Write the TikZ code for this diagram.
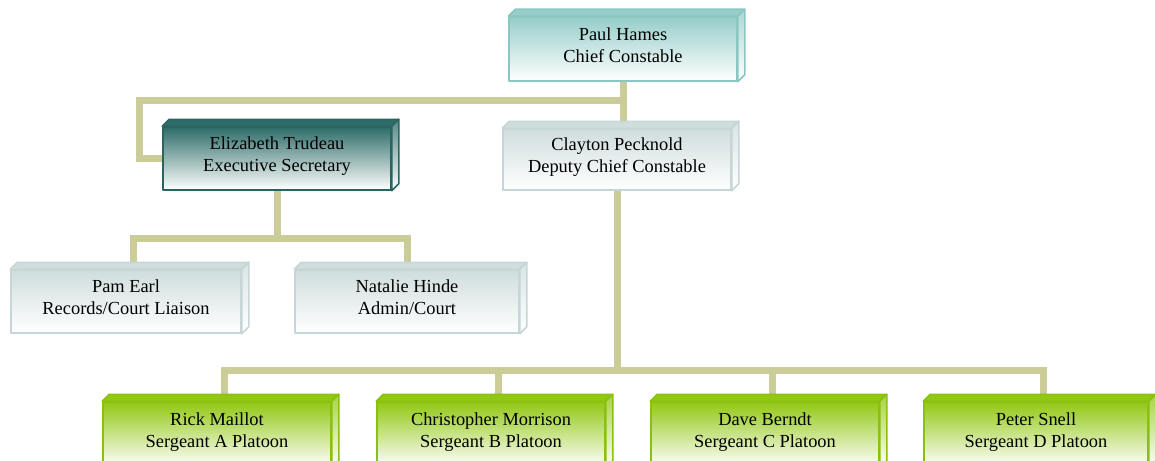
\documentclass[tikz,border=0pt]{standalone}
\usepackage{fontspec}
\setmainfont{Liberation Serif}
\usetikzlibrary{calc,backgrounds}
\definecolor{linec}{RGB}{204,204,153}
\definecolor{tealT}{RGB}{150,205,201}
\definecolor{tealB}{RGB}{138,198,194}
\definecolor{darkT}{RGB}{45,108,104}
\definecolor{darkB}{RGB}{42,100,96}
\definecolor{greyT}{RGB}{208,221,221}
\definecolor{greyB}{RGB}{198,213,213}
\definecolor{greenT}{RGB}{146,200,20}
\definecolor{greenB}{RGB}{138,192,16}
\tikzset{
  front/.style={inner sep=0pt, line width=1.5pt, line join=round},
  boxtext/.style={align=center, font=\fontsize{18.4}{22}\selectfont, text depth=0pt, inner sep=0pt},
  conn/.style={draw=linec, line width=7pt, line join=miter},
}
% name, x, y, w, h, colour prefix, text
\newcommand\orgunit[7]{%
  \node[front, minimum width=#4pt, minimum height=#5pt, draw=#6B,
        top color=#6T, middle color=#6T!45!white, bottom color=white] (#1) at (#2,#3) {};
  \fill[#6T, draw=#6B, line width=1.5pt, line join=round]
    (#1.north west) -- ([shift={(7pt,7pt)}]#1.north west)
    -- ([shift={(7pt,7pt)}]#1.north east) -- (#1.north east) -- cycle;
  \shade[top color=#6T!80!white, bottom color=white, draw=#6B, line width=1.5pt, line join=round]
    (#1.north east) -- ([shift={(7pt,7pt)}]#1.north east)
    -- ([shift={(7pt,7pt)}]#1.south east) -- (#1.south east) -- cycle;
  \coordinate (#1-in) at ([shift={(7pt,7pt)}]#1.north);
  \node[boxtext] (#1-t) at ([yshift=4pt]#1.center) {#7};
}
\begin{document}
\begin{tikzpicture}[x=1pt,y=-1pt]
\useasboundingbox (0,0) rectangle (1155,460);
\orgunit{paul}{623}{49}{228}{64}{teal}{Paul Hames\\Chief Constable}
\orgunit{eliz}{277}{158.5}{228}{63}{dark}{Elizabeth Trudeau\\Executive Secretary}
\orgunit{clay}{617}{159.5}{228}{61}{grey}{Clayton Pecknold\\Deputy Chief Constable}
\orgunit{pam}{126}{301.5}{230}{63}{grey}{Pam Earl\\Records/Court Liaison}
\orgunit{nat}{407}{301.5}{224}{63}{grey}{Natalie Hinde\\Admin/Court}
\orgunit{rick}{217}{434.5}{228}{65}{green}{Rick Maillot\\Sergeant A Platoon}
\orgunit{chris}{491}{434.5}{228}{65}{green}{Christopher Morrison\\Sergeant B Platoon}
\orgunit{dave}{765}{434.5}{228}{65}{green}{Dave Berndt\\Sergeant C Platoon}
\orgunit{peter}{1036}{434.5}{224}{65}{green}{Peter Snell\\Sergeant D Platoon}
\coordinate (nat-top) at ([yshift=7pt]nat.north);
\begin{scope}[on background layer]
  \coordinate (j1) at (paul.south |- 0,100);
  \coordinate (j1l) at (139.5,100);
  \draw[conn] (paul.south) -- (paul.south |- clay-in);
  \draw[conn] (j1) -- (j1l) |- (eliz.west);
  \coordinate (j2) at (eliz.south |- 0,238);
  \draw[conn] (eliz.south) -- (j2);
  \draw[conn] (pam-in) |- (j2) -| (nat-top);
  \coordinate (j3) at (clay.south |- 0,370);
  \draw[conn] (clay.south) -- (j3);
  \draw[conn] (rick-in) |- (j3) -| (peter-in);
  \draw[conn] (chris-in) -- (chris-in |- j3);
  \draw[conn] (dave-in) -- (dave-in |- j3);
\end{scope}
\end{tikzpicture}
\end{document}
